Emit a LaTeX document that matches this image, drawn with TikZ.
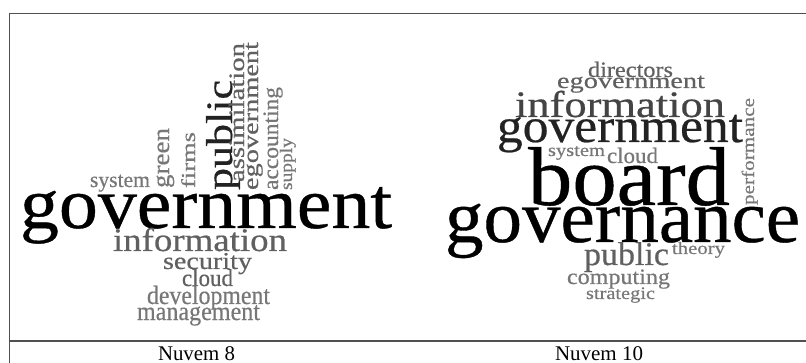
\documentclass[tikz,border=0pt]{standalone}
\usepackage{fontspec}
\setmainfont{Liberation Serif}
\newfontfamily\wcfont{Liberation Serif}[FakeBold=0.5]
\usepackage{graphicx}
\newlength\wcl
\newcommand\wc[3]{%
  \pgfmathsetmacro\wcfs{#2/0.455}%
  \wcfont\fontsize{\wcfs pt}{\wcfs pt}\selectfont
  \settowidth\wcl{#3}%
  \pgfmathsetmacro\wcs{#1/\wcl}%
  \scalebox{\wcs}[1]{#3}}
\newcommand\wcc[3]{%
  \pgfmathsetmacro\wcfs{#2/0.455}%
  \fontsize{\wcfs pt}{\wcfs pt}\selectfont
  \settowidth\wcl{#3}%
  \pgfmathsetmacro\wcs{#1/\wcl}%
  \scalebox{\wcs}[1]{#3}}
\definecolor{gA}{HTML}{222222}
\definecolor{gB}{HTML}{444444}
\definecolor{gC}{HTML}{606060}
\definecolor{gD}{HTML}{777777}
\definecolor{frm}{HTML}{505050}
\tikzset{
  wordh/.style={inner sep=0pt, outer sep=0pt, anchor=base west},
  wordv/.style={wordh, rotate=90},
  framel/.style={line width=1.3pt, draw=frm}
}
\begin{document}
\begin{tikzpicture}[x=1pt,y=-1pt]
\useasboundingbox (0,0) rectangle (806,363);
% frame
\coordinate (ftl) at (9.5,13.5);
\coordinate (ftr) at (806,13.5);
\coordinate (fbl) at (9.5,363);
\coordinate (fml) at (9.5,341);
\coordinate (fmr) at (806,341);
\draw[framel] (ftr) -- (ftl) -- (fbl);
\draw[framel] (fml) -- (fmr);
% left cloud
\node[wordh, text=gD] (Lsystem) at (90,187) {\wc{60}{10}{system}};
\node[wordh, text=black] (Lgov) at (20,228) {\wc{372}{33}{government}};
\node[wordh, text=gC] (Linfo) at (113,251) {\wc{174}{15}{information}};
\node[wordh, text=gC] (Lsec) at (163,269) {\wc{89}{11}{security}};
\node[wordh, text=gC] (Lcloud) at (182,286) {\wc{51}{11}{cloud}};
\node[wordh, text=gD] (Ldev) at (147,304) {\wc{123}{12}{development}};
\node[wordh, text=gD] (Lman) at (137,320) {\wc{123}{12}{management}};
\node[wordv, text=gD] (Lgreen) at (169,188) {\wc{60}{11}{green}};
\node[wordv, text=gD] (Lfirms) at (195,188) {\wc{56}{9}{firms}};
\node[wordv, text=gA] (Lpublic) at (232,190) {\wc{110}{17}{public}};
\node[wordv, text=gC] (Lassim) at (244,182) {\wc{139}{10}{assimilation}};
\node[wordv, text=gC] (Legov) at (258,190) {\wc{148}{10}{egovernment}};
\node[wordv, text=gD] (Lacc) at (278,190) {\wc{103}{10}{accounting}};
\node[wordv, text=gD] (Lsupply) at (292,190) {\wc{52}{8}{supply}};
% right cloud
\node[wordh, text=gC] (Rdir) at (588,77) {\wc{85}{10}{directors}};
\node[wordh, text=gC] (Regov) at (557,88) {\wc{148}{10}{egovernment}};
\node[wordh, text=gB] (Rinfo) at (515,117) {\wc{210}{17}{information}};
\node[wordh, text=gA] (Rgov) at (497,142) {\wc{246}{22}{government}};
\node[wordh, text=gD] (Rsystem) at (548,156) {\wc{57}{8}{system}};
\node[wordh, text=gD] (Rcloud) at (607,163) {\wc{51}{10}{cloud}};
\node[wordh, text=black] (Rboard) at (528,205) {\wc{202}{38}{board}};
\node[wordv, text=gD] (Rperf) at (754,205) {\wc{107}{8}{performance}};
\node[wordh, text=black] (Rgovn) at (445,242) {\wc{355}{34}{governance}};
\node[wordh, text=gC] (Rpublic) at (584,265) {\wc{85}{15}{public}};
\node[wordh, text=gD] (Rtheory) at (672,254) {\wc{53}{8}{theory}};
\node[wordh, text=gD] (Rcomp) at (567,284) {\wc{103}{10}{computing}};
\node[wordh, text=gD] (Rstrat) at (586,299) {\wc{69}{8}{strategic}};
% captions
\node[wordh, text=black] (cap8) at (158,360) {\wcc{77}{9.5}{Nuvem 8}};
\node[wordh, text=black] (cap10) at (555,360) {\wcc{88}{9.5}{Nuvem 10}};
\end{tikzpicture}
\end{document}
